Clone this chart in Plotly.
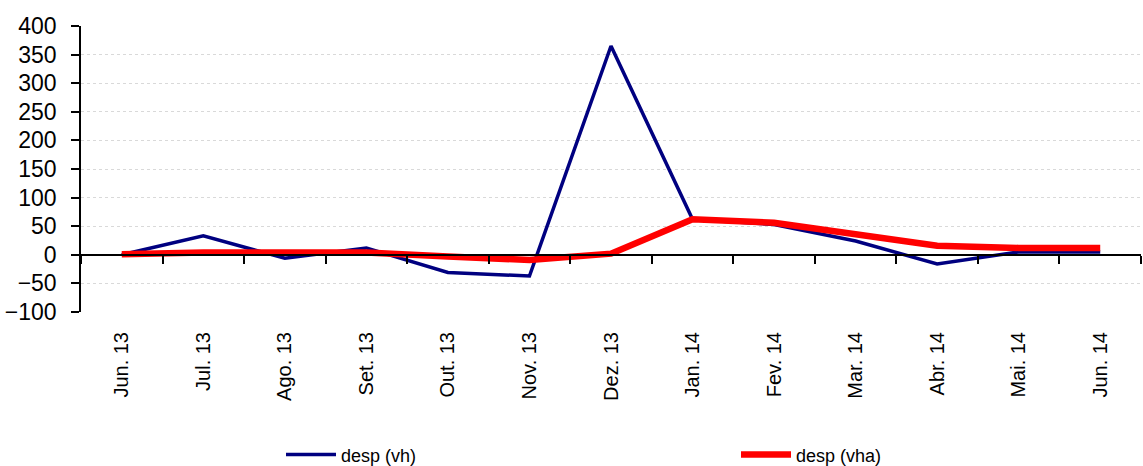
import plotly.graph_objects as go

categories = ["Jun. 13", "Jul. 13", "Ago. 13", "Set. 13", "Out. 13", "Nov. 13",
              "Dez. 13", "Jan. 14", "Fev. 14", "Mar. 14", "Abr. 14", "Mai. 14", "Jun. 14"]
desp_vh = [0, 33, -6, 12, -31, -37, 365, 62, 53, 24, -16, 5, 5]
desp_vha = [1, 4, 4, 4, -3, -9, 2, 62, 56, 37, 16, 12, 12]
y_ticks = [-100, -50, 0, 50, 100, 150, 200, 250, 300, 350, 400]

FONT = "Liberation Sans, Arial, sans-serif"

fig = go.Figure()
fig.add_trace(go.Scatter(x=categories, y=desp_vh, mode="lines", name="desp (vh)",
                         line=dict(color="#000080", width=3.5), xaxis="x", legend="legend"))
fig.add_trace(go.Scatter(x=categories, y=desp_vha, mode="lines", name="desp (vha)",
                         line=dict(color="#FF0000", width=6.5), xaxis="x", legend="legend2"))
# invisible trace to carry the label axis
fig.add_trace(go.Scatter(x=categories, y=desp_vh, mode="lines", showlegend=False,
                         hoverinfo="skip", line=dict(width=0), opacity=0, xaxis="x2"))

leg_common = dict(orientation="h", xref="container", yref="container", yanchor="middle",
                  y=0.024, xanchor="left", itemwidth=50,
                  font=dict(size=18, family=FONT, color="black"), bgcolor="rgba(0,0,0,0)")

fig.update_layout(
    width=1143, height=466,
    margin=dict(l=81, r=2, t=26, b=154, autoexpand=False),
    paper_bgcolor="white", plot_bgcolor="white",
    font=dict(family=FONT, color="black"),
    showlegend=True,
    legend=dict(x=281 / 1143, **leg_common),
    legend2=dict(x=736 / 1143, **leg_common),
    xaxis=dict(type="category", categoryorder="array", categoryarray=categories,
               range=[-0.5, len(categories) - 0.5], automargin=False,
               anchor="free", position=0.2, showline=True, linecolor="black", linewidth=1.5,
               ticks="outside", ticklen=8, tickwidth=1.5, tickcolor="black",
               tickson="boundaries", showticklabels=False, showgrid=False, zeroline=False),
    xaxis2=dict(type="category", categoryorder="array", categoryarray=categories,
                range=[-0.5, len(categories) - 0.5], overlaying="x", anchor="y", side="bottom",
                showline=False, ticks="", showgrid=False, zeroline=False, automargin=False,
                tickangle=-90, tickfont=dict(size=20, family=FONT, color="black"),
                ticklabelstandoff=15),
    yaxis=dict(range=[-100, 400], tickvals=y_ticks, showline=True, linecolor="black",
               linewidth=1.5, ticks="outside", ticklen=8, tickwidth=1.5, tickcolor="black",
               tickfont=dict(size=23, family=FONT, color="black"), automargin=False,
               showgrid=True, gridcolor="#d9d9d9", griddash="dot", gridwidth=1,
               zeroline=False, ticklabelstandoff=10),
)

fig.write_html("out.html")
